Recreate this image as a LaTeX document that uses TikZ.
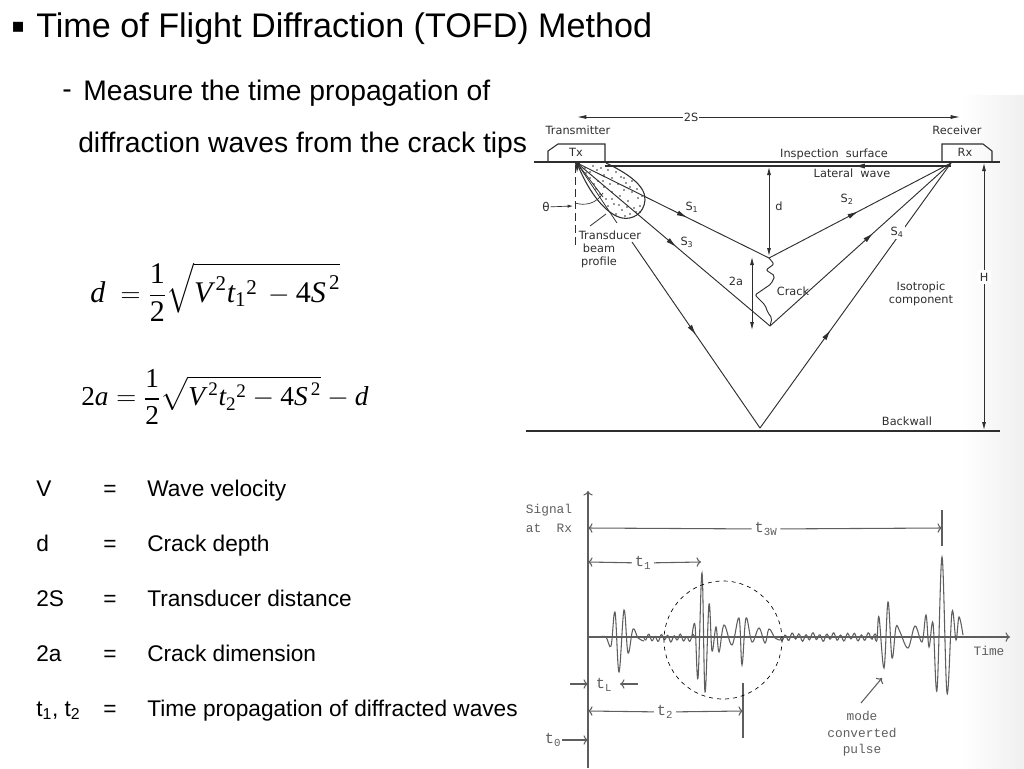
\documentclass[tikz,border=0pt]{standalone}
\usepackage{amsmath}
\usepackage{fontspec}
\setmainfont{Liberation Sans}
\setmonofont{Liberation Mono}
\newfontfamily\eqfont{Liberation Serif}
\newfontfamily\figfont{DejaVu Sans}
\newcommand{\mi}[1]{\text{\eqfont\itshape #1}}
\newcommand{\mr}[1]{\text{\eqfont #1}}
\usetikzlibrary{arrows.meta,decorations.markings,shapes.geometric}
\definecolor{inkdark}{HTML}{2E2E2E}
\definecolor{inkscan}{HTML}{5E5E5E}
\tikzset{
  slidetext/.style={anchor=base west,inner sep=0pt,text=black},
  subtext/.style={slidetext,font=\fontsize{21.2}{25}\selectfont},
  legendtext/.style={slidetext,font=\fontsize{17}{20}\selectfont},
  eqnode/.style={anchor=west,inner sep=0pt,font=\fontsize{22.5}{26}\selectfont},
  figlabel/.style={inner sep=0.5pt,text=inkdark,font=\figfont\fontsize{8.5}{10}\selectfont},
  scanlabel/.style={inner sep=0.5pt,text=inkscan,font=\ttfamily\fontsize{9.6}{11}\selectfont},
  timelabel/.style={scanlabel,font=\ttfamily\fontsize{11.5}{13}\selectfont},
  waveline/.style={inkdark,line width=0.7pt,postaction={decorate},
    decoration={markings,mark=at position #1 with {\arrow{Latex[length=8pt,width=3.8pt]}}}},
  dimline/.style={inkdark,line width=0.6pt,{Latex[length=6pt,width=3pt]}-{Latex[length=6pt,width=3pt]}},
  scanline/.style={inkscan,line width=0.8pt},
  signal/.style={inkscan,line width=0.8pt}
}
\begin{document}
\begin{tikzpicture}[x=0.75pt,y=-0.75pt]
\useasboundingbox (0,0) rectangle (1024,768);
\shade[left color=white,right color=blue!4!black!6!white] (960,95) rectangle (1024,768);

% Slide text
\node[slidetext,font=\figfont\fontsize{15}{18}\selectfont] (titlemark) at (11,32) {▪};
\node[slidetext,font=\fontsize{25.6}{30}\selectfont] (titleline) at (36,37) {Time of Flight Diffraction (TOFD) Method};
\node[subtext] (subdash) at (62,98) {-};
\node[subtext] (subone) at (83,100) {Measure the time propagation of};
\node[subtext] (subtwo) at (78,152) {diffraction waves from the crack tips};

% Equations
\node[eqnode] (eqdepth) at (90,292) {$\displaystyle \mi{d}\;=\frac{\mr{1}}{\mr{2}}\sqrt{\mi{V}^{\,\mr{2}}\mi{t}_{\mr{1}}{}^{\mr{2}}\,-\mr{4}\mi{S}^{\,\mr{2}}}$};
\node[eqnode,font=\fontsize{20.5}{24}\selectfont] (eqcrack) at (81,397) {$\displaystyle \mr{2}\mi{a}=\frac{\mr{1}}{\mr{2}}\sqrt{\mi{V}^{\,\mr{2}}\mi{t}_{\mr{2}}{}^{\mr{2}}-\mr{4}\mi{S}^{\,\mr{2}}}-\mi{d}$};

% Legend rows
\foreach \rowname/\rowy/\rowsym/\rowtext in {
  velocity/496/V/Wave velocity,
  depth/551/d/Crack depth,
  distance/606/2S/Transducer distance,
  dimension/661/2a/Crack dimension,
  times/716/{t\textsubscript{1}, t\textsubscript{2}}/Time propagation of diffracted waves}{
  \node[legendtext] (sym\rowname) at (36,\rowy) {\rowsym};
  \node[legendtext] (eq\rowname) at (103,\rowy) {=};
  \node[legendtext] (txt\rowname) at (147,\rowy) {\rowtext};
}

% Geometry of the upper figure
\coordinate (surfL) at (534,162);
\coordinate (surfR) at (1000,162);
\coordinate (wallL) at (526,431);
\coordinate (wallR) at (1000,431);
\coordinate (txfocus) at (577,163);
\coordinate (rxfocus) at (951,163);
\coordinate (tiptop) at (769,258);
\coordinate (tipbot) at (770,326);
\coordinate (bounce) at (760,428);
\draw[inkdark,line width=1.1pt] (surfL) -- (surfR);
\draw[inkdark,line width=1.1pt] (wallL) -- (wallR);

% Transducers
\draw[inkdark,line width=0.8pt] (548,162) -- (548,151) -- (558,144) -- (605,144) -- (605,162);
\draw[inkdark,line width=0.8pt] (942,162) -- (942,144) -- (983,144) -- (992,151) -- (992,162);
\node[figlabel] (txlabel) at (576,152) {Tx};
\node[figlabel] (rxlabel) at (965,152) {Rx};
\node[figlabel] (txname) at (578,130) {Transmitter};
\node[figlabel] (rxname) at (957,130) {Receiver};

% Top dimension
\node[figlabel] (spanlabel) at (691,117) {2S};
\coordinate (spanL) at (577,117);
\coordinate (spanR) at (960,117);
\draw[inkdark,line width=0.6pt,-{Latex[length=7pt,width=3pt]}] (spanlabel) -- (spanL);
\draw[inkdark,line width=0.6pt,-{Latex[length=7pt,width=3pt]}] (spanlabel) -- (spanR);

% Beam lobe
\draw[inkdark,line width=0.8pt] (606,163) .. controls (625,172) and (646,185) .. (645,200)
  .. controls (644,214) and (632,220) .. (622,218)
  .. controls (608,215) and (590,196) .. (txfocus);
\foreach \dotx/\doty in {590/172,597/170,604/175,612/178,618/184,626/183,632/192,638/198,
  640/206,634/208,628/201,620/196,612/192,604/187,598/181,606/199,614/204,622/210,630/214,
  636/212,616/214,608/206,600/194,594/184,586/173,624/190,632/181,610/184,585/168,593/166,
  601/168,608/170,616/172,624/178,630/187,637/189,642/196,627/207,619/205,612/199,603/181,
  590/178,596/189,625/216,640/212,621/177}{
  \fill[inkdark] (\dotx,\doty) circle (0.65pt);
}
\fill[inkdark] (575,163) -- (580,163) -- (577,172) -- cycle;
\coordinate (rayA) at (617,223);
\coordinate (rayB) at (603,197);
\draw[inkdark,line width=0.6pt] (txfocus) -- (rayA);
\draw[inkdark,line width=0.6pt] (txfocus) -- (rayB);

% Surface wave
\coordinate (lateralR) at (951,166);
\coordinate (lateralL) at (605,166);
\draw[waveline=0.28,line width=0.8pt] (lateralR) -- (lateralL);

% Wave paths
\draw[waveline=0.575] (txfocus) -- (tiptop);
\draw[waveline=0.49] (tiptop) -- (rxfocus);
\draw[waveline=0.515] (txfocus) -- (tipbot);
\draw[waveline=0.57] (tipbot) -- (rxfocus);
\coordinate (lobeexit) at (632,242);
\draw[waveline=0.5] (lobeexit) -- (bounce);
\draw[waveline=0.37] (bounce) -- (rxfocus);

% Crack
\draw[inkdark,line width=0.7pt,rounded corners=1.5pt] (tiptop) -- (774,264) -- (766,270) -- (775,276)
  -- (771,284) -- (755,295) -- (765,305) -- (768,313) -- (772,318) -- (tipbot);

% Beam angle
\coordinate (normaltop) at (575,165);
\coordinate (normalbot) at (575,247);
\coordinate (thetastart) at (575,203);
\coordinate (thetaend) at (603,193);
\coordinate (thetatip) at (573,206);
\coordinate (leadA) at (590,226);
\coordinate (leadB) at (606,214);
\draw[inkdark,line width=0.7pt,dash pattern=on 6pt off 3pt] (normaltop) -- (normalbot);
\draw[inkdark,line width=0.5pt] (thetastart) .. controls (585,206) and (596,204) .. (thetaend);
\node[figlabel,font=\figfont\fontsize{9}{10}\selectfont] (thetalabel) at (546,207) {θ};
\draw[inkdark,line width=0.5pt,-{Latex[length=4pt,width=2.4pt]}] (thetalabel) -- (thetatip);
\draw[inkdark,line width=0.6pt] (leadA) -- (leadB);
\node[figlabel] (beamone) at (610,235) {Transducer};
\node[figlabel] (beamtwo) at (599,248) {beam};
\node[figlabel] (beamthree) at (599,262) {profile};

% Depth dimensions
\coordinate (dtop) at (769,167);
\coordinate (dbot) at (769,256);
\coordinate (atop) at (752,257);
\coordinate (abot) at (752,330);
\coordinate (htop) at (984,163);
\coordinate (hbot) at (984,430);
\draw[dimline] (dtop) -- (dbot);
\draw[dimline] (atop) -- (abot);
\draw[dimline] (htop) -- (hbot);
\node[figlabel] (dlabel) at (779,206) {d};
\node[figlabel] (alabel) at (736,281) {2a};
\node[figlabel,fill=white,inner sep=2pt] (hlabel) at (984,277) {H};

% Upper figure labels
\node[figlabel] (surflabel) at (834,154) {Inspection\ \ surface};
\node[figlabel] (laterallabel) at (852,173) {Lateral\ \ wave};
\node[figlabel] (sonelabel) at (692,207) {S\textsubscript{1}};
\node[figlabel] (stwolabel) at (847,199) {S\textsubscript{2}};
\node[figlabel] (sthreelabel) at (687,242) {S\textsubscript{3}};
\node[figlabel,fill=white,inner sep=1.5pt] (sfourlabel) at (897,232) {S\textsubscript{4}};
\node[figlabel] (cracklabel) at (793,291) {Crack};
\node[figlabel] (isoone) at (921,287) {Isotropic};
\node[figlabel] (isotwo) at (921,301) {component};
\node[figlabel] (walllabel) at (907,421) {Backwall};

% Signal axes
\coordinate (origin) at (588,637);
\coordinate (axistop) at (588,491);
\coordinate (axisbot) at (588,768);
\coordinate (axisend) at (1010,637);
\draw[scanline,->] (axisbot) -- (axistop);
\draw[scanline,->] (origin) -- (axisend);
\node[scanlabel] (signalone) at (549,510) {Signal};
\node[scanlabel] (signaltwo) at (549,528) {at\ \ Rx};
\node[scanlabel] (timelabel) at (989,651) {Time};

% Echoes
\draw[signal] plot[smooth,tension=0.6] coordinates {(600,637) (606,637) (611,646) (615,612) (619,672) (624,610) (628,653) (633,629) (638,638) (644,641)};
\draw[signal,domain=0:51,samples=60] plot ({644+\x},{638+2.8*sin(\x*57)-1.2*sin(\x*23)});
\draw[signal] plot[smooth,tension=0.6] coordinates {(692,636) (695,625) (698,678) (702,573) (705,692) (709,604) (712,651) (716,627) (719,652) (724,625) (732,645) (739,618) (742,665) (746,618) (752,642) (759,628) (765,643) (769,629) (775,638) (780,640)};
\draw[signal,domain=0:97,samples=100] plot ({780+\x},{637+3.2*sin(\x*52)+1.2*sin(\x*19)});
\draw[signal] plot[smooth,tension=0.6] coordinates {(875,638) (877,640) (879,617) (884,668) (888,602) (892,658) (896,627) (900,632) (908,648) (915,626) (922,642) (926,615) (929,647) (933,623) (937,690) (942,557) (947,693) (952,612) (956,640) (959,617) (963,635)};

% Time marks
\coordinate (bwmark) at (942,528);
\coordinate (onemark) at (701,562);
\coordinate (twomark) at (743,711);
\coordinate (axisbw) at (588,528);
\coordinate (axisone) at (588,562);
\coordinate (axistwo) at (588,711);
\coordinate (axislat) at (588,684);
\coordinate (axiszero) at (588,740);
\coordinate (lateralend) at (620,684);
\coordinate (lateralfree) at (638,684);
\coordinate (lateralstart) at (570,684);
\node[timelabel,fill=white,inner sep=2pt] (tbwlabel) at (766,529) {t\textsubscript{3W}};
\node[timelabel,fill=white,inner sep=2pt] (tonelabel) at (643,563) {t\textsubscript{1}};
\node[timelabel,fill=white,inner sep=2pt] (ttwolabel) at (665,712) {t\textsubscript{2}};
\node[timelabel] (tllabel) at (604,685) {t\textsubscript{L}};
\node[timelabel] (tzerolabel) at (553,740) {t\textsubscript{0}};
\draw[scanline,->] (tbwlabel) -- (axisbw);
\draw[scanline,->] (tbwlabel) -- (bwmark);
\draw[scanline,->] (tonelabel) -- (axisone);
\draw[scanline,->] (tonelabel) -- (onemark);
\draw[scanline,->] (ttwolabel) -- (axistwo);
\draw[scanline,->] (ttwolabel) -- (twomark);
\draw[scanline,->] (lateralstart) -- (axislat);
\draw[scanline,->] (lateralfree) -- (lateralend);
\draw[scanline,->] (tzerolabel) -- (axiszero);
\draw[scanline] (942,510) -- (942,546);
\draw[scanline] (743,683) -- (743,738);

% Circled crack echoes
\node[circle,draw=black,dashed,line width=0.5pt,minimum size=88.5pt,inner sep=0pt] (echoring) at (723,640) {};

% Mode converted pulse
\coordinate (pulsetip) at (882,678);
\node[scanlabel,align=center] (pulselabel) at (862,734) {mode\\[1.5pt]converted\\[1.5pt]pulse};
\coordinate (pulsefoot) at (861,703);
\draw[scanline,->] (pulsefoot) -- (pulsetip);
\end{tikzpicture}
\end{document}
